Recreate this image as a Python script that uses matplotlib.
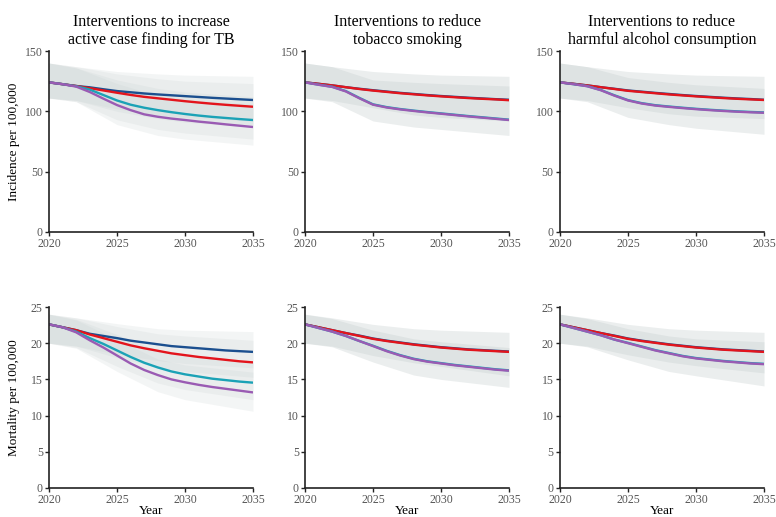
import matplotlib
matplotlib.use("Agg")
import matplotlib.pyplot as plt
import numpy as np

plt.rcParams['font.family'] = ['Liberation Serif', 'DejaVu Serif']

# --- data ---
years = list(range(2020, 2036))
band_years = [2020, 2022, 2025, 2028, 2030, 2035]

titles = ["Interventions to increase\nactive case finding for TB",
          "Interventions to reduce\ntobacco smoking",
          "Interventions to reduce\nharmful alcohol consumption"]

scenario_colors = {"base": "#1b4f8f", "low": "#e3141c", "mid": "#1ba2b6", "high": "#9a5bb3"}

# incidence per 100,000
inc_lines = [
    {"base": [124, 122.5, 121, 119.9, 118.3, 116.8, 115.8, 114.8, 114, 113.3, 112.6, 111.9, 111.2, 110.6, 110, 109.4],
     "low":  [124, 122.5, 121, 119.2, 117.3, 115.4, 113.6, 112, 110.8, 109.6, 108.4, 107.3, 106.3, 105.4, 104.6, 103.8],
     "mid":  [124, 122.5, 120.8, 118, 113.5, 109, 105.5, 103, 101, 99.3, 97.8, 96.5, 95.4, 94.5, 93.6, 92.8],
     "high": [124, 122.5, 120.5, 116, 110.5, 105.2, 101, 97.5, 95.5, 94, 92.8, 91.5, 90.4, 89.2, 88.1, 87]},
    {"base": [124, 122.8, 121.5, 120, 118.7, 117.5, 116.4, 115.3, 114.4, 113.5, 112.7, 112, 111.3, 110.7, 110.1, 109.6],
     "low":  [124, 122.8, 121.5, 120, 118.5, 117.2, 116.1, 115, 114.1, 113.2, 112.4, 111.7, 111, 110.4, 109.9, 109.2],
     "mid":  [124, 122.1, 120.4, 116.8, 111.1, 105.8, 103.5, 101.9, 100.6, 99.4, 98.3, 97.2, 96.1, 95.1, 94.1, 93.1],
     "high": [124, 122, 120.2, 116.5, 110.8, 105.5, 103.2, 101.6, 100.3, 99.1, 98, 96.9, 95.8, 94.8, 93.8, 92.8]},
    {"base": [124, 122.8, 121.5, 120, 118.7, 117.3, 116.3, 115.3, 114.4, 113.5, 112.7, 112, 111.3, 110.7, 110.2, 109.6],
     "low":  [124, 122.8, 121.5, 120, 118.5, 117, 116, 115, 114, 113.2, 112.4, 111.7, 111, 110.4, 109.9, 109.4],
     "mid":  [124, 122.5, 120.9, 117.7, 113.3, 109.3, 106.8, 105.1, 104, 103, 102.1, 101.3, 100.6, 100, 99.5, 99.1],
     "high": [124, 122.5, 120.8, 117.5, 113, 109, 106.5, 104.8, 103.7, 102.7, 101.8, 101, 100.3, 99.7, 99.2, 98.8]},
]

inc_bands = [
    {"base": ([140, 137, 133, 131, 130, 129], [111, 109, 102, 97, 95, 92]),
     "low":  ([140, 137, 131, 127, 125, 123], [111, 109, 100, 94, 91, 87]),
     "mid":  ([140, 136, 126, 119, 116, 112], [111, 108, 93, 85, 82, 77]),
     "high": ([140, 136, 123, 113, 110, 106], [111, 108, 89, 80, 77, 72])},
    {"base": ([140, 137, 133, 131, 130, 129], [111, 109, 103, 97, 95, 92]),
     "high": ([140, 137, 126, 124, 123, 121], [111, 108, 92, 87, 85, 80])},
    {"base": ([140, 137, 133, 131, 130, 129], [111, 109, 103, 98, 96, 94]),
     "high": ([140, 137, 128, 124, 122, 119], [111, 108, 95, 89, 86, 81])},
]

# mortality per 100,000
mort_lines = [
    {"base": [22.6, 22.2, 21.8, 21.3, 21.0, 20.7, 20.35, 20.1, 19.85, 19.6, 19.45, 19.3, 19.15, 19.0, 18.9, 18.8],
     "low":  [22.6, 22.2, 21.8, 21.2, 20.7, 20.2, 19.7, 19.3, 18.95, 18.6, 18.35, 18.1, 17.9, 17.7, 17.5, 17.35],
     "mid":  [22.6, 22.2, 21.6, 20.7, 19.9, 19.0, 18.1, 17.3, 16.65, 16.1, 15.7, 15.4, 15.1, 14.9, 14.7, 14.55],
     "high": [22.6, 22.2, 21.5, 20.4, 19.4, 18.3, 17.2, 16.3, 15.6, 15.0, 14.6, 14.25, 13.95, 13.7, 13.45, 13.2]},
    {"base": [22.6, 22.2, 21.8, 21.4, 21.05, 20.65, 20.35, 20.1, 19.85, 19.65, 19.45, 19.3, 19.15, 19.05, 18.95, 18.85],
     "low":  [22.6, 22.2, 21.8, 21.4, 21.0, 20.6, 20.3, 20.05, 19.8, 19.6, 19.4, 19.25, 19.1, 19.0, 18.9, 18.8],
     "mid":  [22.6, 22.1, 21.6, 21.0, 20.3, 19.65, 18.95, 18.35, 17.85, 17.5, 17.25, 17.0, 16.8, 16.6, 16.4, 16.25],
     "high": [22.6, 22.1, 21.6, 21.0, 20.3, 19.6, 18.9, 18.3, 17.8, 17.45, 17.2, 16.95, 16.75, 16.55, 16.35, 16.2]},
    {"base": [22.6, 22.2, 21.8, 21.4, 21.05, 20.65, 20.35, 20.1, 19.85, 19.65, 19.45, 19.3, 19.15, 19.05, 18.95, 18.85],
     "low":  [22.6, 22.2, 21.8, 21.4, 21.0, 20.6, 20.3, 20.05, 19.8, 19.6, 19.4, 19.25, 19.1, 19.0, 18.9, 18.8],
     "mid":  [22.6, 22.1, 21.6, 21.1, 20.5, 20.05, 19.55, 19.05, 18.65, 18.25, 17.95, 17.75, 17.55, 17.4, 17.25, 17.15],
     "high": [22.6, 22.1, 21.6, 21.1, 20.5, 20.0, 19.5, 19.0, 18.6, 18.2, 17.9, 17.7, 17.5, 17.35, 17.2, 17.1]},
]

mort_bands = [
    {"base": ([24.0, 23.5, 22.7, 22.0, 21.8, 21.6], [20.0, 19.6, 18.5, 17.6, 17.2, 16.6]),
     "low":  ([24.0, 23.5, 22.3, 21.3, 21.0, 20.4], [20.0, 19.6, 18.0, 16.7, 16.1, 15.3]),
     "mid":  ([24.0, 23.3, 21.2, 19.0, 18.3, 17.4], [20.0, 19.4, 16.8, 14.5, 13.6, 12.2]),
     "high": ([24.0, 23.2, 20.5, 17.8, 17.0, 16.0], [20.0, 19.3, 16.1, 13.3, 12.2, 10.6])},
    {"base": ([24.0, 23.5, 22.6, 22.0, 21.8, 21.5], [20.0, 19.6, 18.3, 17.3, 16.8, 15.5]),
     "high": ([24.0, 23.4, 21.8, 20.6, 20.2, 19.4], [20.0, 19.5, 17.4, 15.6, 15.0, 13.9])},
    {"base": ([24.0, 23.5, 22.6, 22.0, 21.8, 21.5], [20.0, 19.6, 18.4, 17.4, 16.9, 15.9]),
     "high": ([24.0, 23.4, 22.0, 21.0, 20.6, 20.2], [20.0, 19.5, 17.7, 16.1, 15.5, 14.1])},
]

fig = plt.figure(figsize=(7.76, 5.17), dpi=100)

lefts = [49 / 776, 305 / 776, 560 / 776]
w = 204 / 776
h = 181 / 517
bottoms = [1 - 232 / 517, 1 - 488 / 517]


def draw_panel(ax, lines, bands, ymax, ystep):
    alpha = 0.6 / len(bands) + 0.05
    for key, (hi, lo) in bands.items():
        ax.fill_between(band_years, lo, hi, color="#c6cfcf", alpha=alpha, lw=0)
    for key in ["base", "low", "mid", "high"]:
        ax.plot(years, lines[key], color=scenario_colors[key], lw=1.7, solid_capstyle="butt")
    ax.set_xlim(2020, 2035)
    ax.set_ylim(0, ymax)
    ax.set_xticks([2020, 2025, 2030, 2035])
    ax.set_yticks(np.arange(0, ymax + 1, ystep))
    for s in ["top", "right"]:
        ax.spines[s].set_visible(False)
    for s in ["left", "bottom"]:
        ax.spines[s].set_color("#222222")
        ax.spines[s].set_linewidth(1.2)
    ax.tick_params(length=3, width=1, colors="#222222", labelcolor="#555555",
                   labelsize=8.5, pad=1.5)


for i in range(3):
    ax = fig.add_axes([lefts[i], bottoms[0], w, h])
    draw_panel(ax, inc_lines[i], inc_bands[i], 150, 50)
    ax.set_title(titles[i], fontsize=11.5, pad=5, linespacing=1.2)
    if i == 0:
        ax.set_ylabel("Incidence per 100,000", fontsize=9.5)
        ax.yaxis.set_label_coords(-0.142, 0.5)

    ax = fig.add_axes([lefts[i], bottoms[1], w, h])
    draw_panel(ax, mort_lines[i], mort_bands[i], 25, 5)
    ax.set_xlabel("Year", fontsize=9.5, labelpad=-1)
    if i == 0:
        ax.set_ylabel("Mortality per 100,000", fontsize=9.5)
        ax.yaxis.set_label_coords(-0.142, 0.5)

fig.savefig("out.png", dpi=100)
